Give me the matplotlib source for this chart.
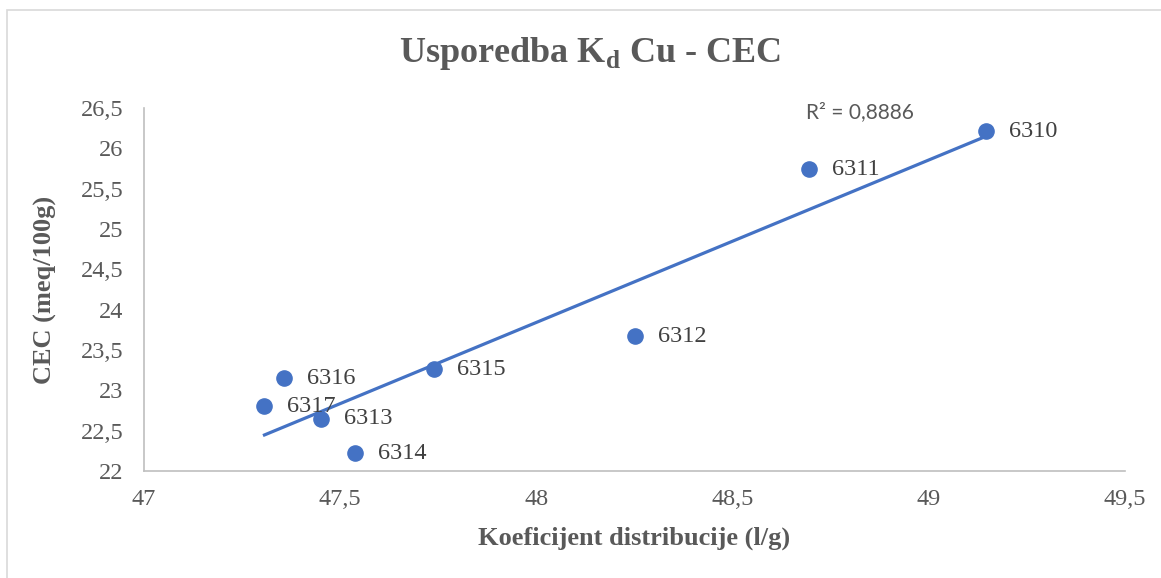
import numpy as np
import matplotlib
matplotlib.use('Agg')
import matplotlib.pyplot as plt
from matplotlib.patches import Rectangle
import matplotlib.ticker as mticker

# data
sample_ids = ['6310', '6311', '6312', '6313', '6314', '6315', '6316', '6317']
kd_cu = [49.145, 48.695, 48.251, 47.451, 47.538, 47.740, 47.358, 47.307]
cec = [26.21, 25.74, 23.67, 22.65, 22.22, 23.26, 23.15, 22.80]

x_ticks = [47, 47.5, 48, 48.5, 49, 49.5]
y_ticks = [22, 22.5, 23, 23.5, 24, 24.5, 25, 25.5, 26, 26.5]

blue = '#4472C4'
gray = '#595959'
serif = 'Liberation Serif'

plt.rcParams['font.family'] = serif
plt.rcParams['mathtext.fontset'] = 'custom'
plt.rcParams['mathtext.rm'] = serif
plt.rcParams['mathtext.bf'] = serif + ':bold'


def comma(v, pos=None):
    s = f'{v:g}'
    return s.replace('.', ',')


fig = plt.figure(figsize=(11.61, 5.78), dpi=100)
fig.patches.append(Rectangle((7 / 1161, -0.1), 1.2, 1 - 10 / 578 + 0.1,
                             transform=fig.transFigure, fill=False,
                             edgecolor='#D9D9D9', linewidth=1.2))

ax = fig.add_axes((144 / 1161, 1 - 471 / 578, 981 / 1161, 363 / 578))
ax.set_xlim(47, 49.5)
ax.set_ylim(22, 26.5)
ax.set_xticks(x_ticks)
ax.set_yticks(y_ticks)
ax.xaxis.set_major_formatter(mticker.FuncFormatter(comma))
ax.yaxis.set_major_formatter(mticker.FuncFormatter(comma))
ax.tick_params(length=0, labelsize=17.5, labelcolor=gray)
ax.tick_params(axis='x', pad=13)
ax.tick_params(axis='y', pad=15)
for side in ['top', 'right']:
    ax.spines[side].set_visible(False)
for side in ['left', 'bottom']:
    ax.spines[side].set_color('#BFBFBF')
    ax.spines[side].set_linewidth(1.2)

x = np.array(kd_cu)
y = np.array(cec)
slope, intercept = np.polyfit(x, y, 1)
xs = np.array([x.min(), x.max()])
ax.plot(xs, slope * xs + intercept, color=blue, linewidth=2.3, zorder=2)

ax.scatter(x, y, s=120, color=blue, zorder=3, clip_on=False)
for sid, xi, yi in zip(sample_ids, x, y):
    ax.annotate(sid, (xi, yi), xytext=(16.5, 0), textcoords='offset points',
                va='center', ha='left', fontsize=17.5, color='#404040')

ax.text(0.675, 0.99, 'R² = 0,8886', transform=ax.transAxes, fontsize=15,
        color=gray, family='Lato', va='center', ha='left')

fig.text(0.508, 1 - 54 / 578, r'Usporedba K$_{\mathbf{d}}$ Cu - CEC',
         ha='center', va='center', fontsize=26, fontweight='bold', color=gray)
ax.set_xlabel('Koeficijent distribucije (l/g)', fontsize=19,
              fontweight='bold', color=gray, labelpad=12)
ax.set_ylabel('CEC (meq/100g)', fontsize=19, fontweight='bold',
              color=gray, labelpad=17)

fig.savefig('out.png', dpi=100)
